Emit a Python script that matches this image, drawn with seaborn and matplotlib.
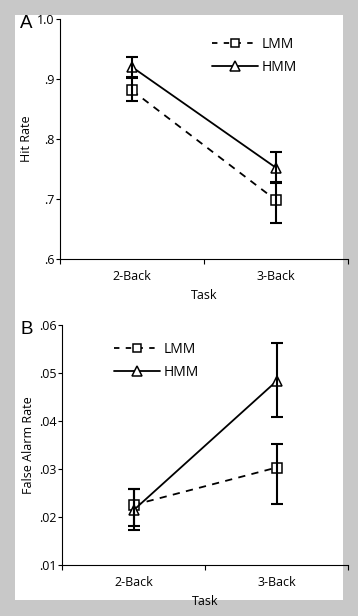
import matplotlib
matplotlib.use("Agg")
import matplotlib.pyplot as plt
from matplotlib.patches import Rectangle
from matplotlib.lines import Line2D
import seaborn as sns
import pandas as pd
import numpy as np

tasks = ["2-Back", "3-Back"]
groups = ["LMM", "HMM"]

hit_lmm = [0.881, 0.698]
hit_lmm_lo = [0.017, 0.038]
hit_lmm_hi = [0.021, 0.030]
hit_hmm = [0.920, 0.752]
hit_hmm_lo = [0.016, 0.025]
hit_hmm_hi = [0.016, 0.027]

fa_lmm = [0.0225, 0.0303]
fa_lmm_lo = [0.0043, 0.0075]
fa_lmm_hi = [0.0033, 0.0050]
fa_hmm = [0.0214, 0.0483]
fa_hmm_lo = [0.0042, 0.0074]
fa_hmm_hi = [0.0044, 0.0079]

sns.set_style("white")
plt.rcParams['font.family'] = ['Open Sans', 'DejaVu Sans']
for k in ["text.color", "axes.labelcolor", "xtick.color", "ytick.color"]:
    plt.rcParams[k] = "black"

W, H = 358, 616
fig = plt.figure(figsize=(W / 100, H / 100), dpi=100)
fig.patch.set_facecolor("#c8c8c8")
fig.patches.append(Rectangle((15 / W, 1 - 600 / H), (343 - 15) / W, (600 - 15) / H,
                             transform=fig.transFigure, facecolor="white",
                             edgecolor="none", zorder=-5))

def make_axes(left_px, top_px, bottom_px, right_px=348):
    return fig.add_axes([left_px / W, 1 - bottom_px / H, (right_px - left_px) / W,
                         (bottom_px - top_px) / H])

axA = make_axes(60, 19, 259)
axB = make_axes(62, 325, 565)

def panel(ax, lmm, lmm_lo, lmm_hi, hmm, hmm_lo, hmm_hi, ylim, yticks, yticklabels,
          ylabel, leg_anchor):
    df = pd.DataFrame({
        "Task": tasks * 2,
        "value": list(lmm) + list(hmm),
        "group": ["LMM"] * 2 + ["HMM"] * 2,
    })
    sns.lineplot(data=df, x="Task", y="value", style="group", hue="group",
                 palette={"LMM": "black", "HMM": "black"},
                 dashes={"LMM": (4, 3.5), "HMM": ""},
                 markers={"LMM": "s", "HMM": "^"},
                 markersize=7.5, markerfacecolor="white", markeredgecolor="black",
                 markeredgewidth=1.1, linewidth=1.3, legend=False, ax=ax,
                 sort=False)
    x = np.arange(len(tasks))
    ax.errorbar(x, lmm, yerr=[lmm_lo, lmm_hi], fmt="none", ecolor="black",
                elinewidth=1.5, capsize=4, capthick=1.5, zorder=5)
    ax.errorbar(x, hmm, yerr=[hmm_lo, hmm_hi], fmt="none", ecolor="black",
                elinewidth=1.5, capsize=4, capthick=1.5, zorder=5)
    ax.set_xlim(-0.5, 1.5)
    ax.set_ylim(*ylim)
    ax.set_yticks(yticks)
    ax.set_yticklabels(yticklabels, fontsize=9)
    ax.set_xticks([0, 1])
    ax.set_xticklabels(tasks, fontsize=9)
    ax.set_xticks([-0.5, 0.5, 1.5], minor=True)
    ax.tick_params(axis="x", which="major", length=0, pad=8)
    ax.tick_params(axis="x", which="minor", length=3.5, width=0.8, direction="out",
                   bottom=True)
    ax.tick_params(axis="y", length=3, width=0.8, direction="out", left=True, pad=1)
    ax.set_xlabel("Task", fontsize=9, labelpad=4)
    ax.set_ylabel(ylabel, fontsize=9, labelpad=3)
    ax.set_facecolor("none")
    for s in ["top", "right"]:
        ax.spines[s].set_visible(False)
    for s in ["left", "bottom"]:
        ax.spines[s].set_color("black")
        ax.spines[s].set_linewidth(0.8)
    handles = [
        Line2D([], [], color="black", ls=(0, (3, 3.5)), lw=1.3, marker="s", ms=6,
               mfc="white", mec="black", mew=1.1),
        Line2D([], [], color="black", ls="-", lw=1.3, marker="^", ms=6.5,
               mfc="white", mec="black", mew=1.1),
    ]
    ax.legend(handles, groups, loc="upper left", bbox_to_anchor=leg_anchor,
              bbox_transform=fig.transFigure, frameon=False, fontsize=10,
              handlelength=3.3, handletextpad=0.3, labelspacing=0.55,
              borderpad=0, borderaxespad=0)
    return ax

panel(axA, hit_lmm, hit_lmm_lo, hit_lmm_hi, hit_hmm, hit_hmm_lo, hit_hmm_hi,
      (0.6, 1.0), [0.6, 0.7, 0.8, 0.9, 1.0], [".6", ".7", ".8", ".9", "1.0"],
      "Hit Rate", (212 / W, 1 - 37 / H))
panel(axB, fa_lmm, fa_lmm_lo, fa_lmm_hi, fa_hmm, fa_hmm_lo, fa_hmm_hi,
      (0.01, 0.06), [0.01, 0.02, 0.03, 0.04, 0.05, 0.06],
      [".01", ".02", ".03", ".04", ".05", ".06"],
      "False Alarm Rate", (114 / W, 1 - 342 / H))

fig.text(20 / W, 1 - 24 / H, "A", fontsize=13.5, va="center", ha="left",
         family=["Liberation Sans", "DejaVu Sans"])
fig.text(20 / W, 1 - 329 / H, "B", fontsize=13.5, va="center", ha="left",
         family=["Liberation Sans", "DejaVu Sans"])

fig.savefig("out.png", dpi=100, facecolor=fig.get_facecolor())
